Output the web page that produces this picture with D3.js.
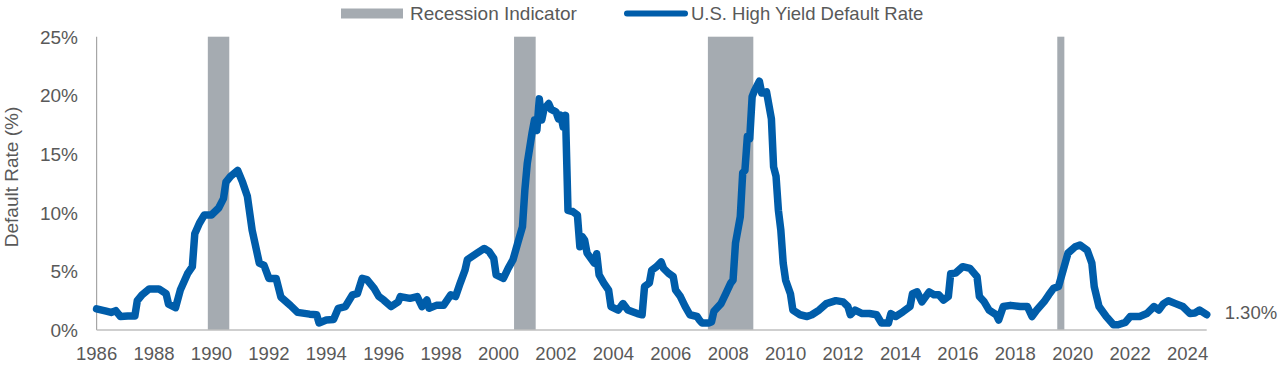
<!DOCTYPE html>
<html>
<head>
<meta charset="utf-8">
<script src="https://cdn.jsdelivr.net/npm/d3@7"></script>
<style>
  html, body { margin: 0; padding: 0; background: #ffffff; }
  svg { display: block; }
  text { font-family: "Liberation Sans", Arial, sans-serif; fill: #595959; }
</style>
</head>
<body>
<svg id="chart" width="1280" height="367"></svg>
<script>
// ---- data ----
const months = [
  "1986-08","1986-12","1987-02","1987-04","1987-06","1987-09","1987-12","1988-01","1988-03","1988-06",
  "1988-10","1989-01","1989-02","1989-05","1989-07","1989-10","1989-12","1990-01","1990-03","1990-05",
  "1990-08","1990-11","1991-01","1991-02","1991-04","1991-07","1991-09","1991-11","1992-01","1992-04",
  "1992-06","1992-08","1992-11","1993-01","1993-05","1993-08","1994-01","1994-04","1994-05","1994-08",
  "1994-11","1995-01","1995-04","1995-07","1995-09","1995-11","1996-01","1996-04","1996-06","1996-08",
  "1996-11","1997-02","1997-03","1997-07","1997-10","1997-12","1998-02","1998-03","1998-06","1998-09",
  "1998-12","1999-02","1999-04","1999-06","1999-07","1999-11","2000-02","2000-04","2000-06","2000-07",
  "2000-10","2000-12","2001-02","2001-04","2001-06","2001-07","2001-08","2001-10","2001-11","2001-12",
  "2002-01","2002-02","2002-03","2002-05","2002-06","2002-08","2002-09","2002-10","2002-11","2002-12",
  "2003-01","2003-03","2003-05","2003-06","2003-07","2003-08","2003-09","2003-12","2004-01","2004-02",
  "2004-04","2004-06","2004-07","2004-10","2004-12","2005-02","2005-04","2005-06","2005-08","2005-09",
  "2005-11","2005-12","2006-02","2006-04","2006-05","2006-07","2006-09","2006-10","2006-12","2007-02",
  "2007-04","2007-07","2007-08","2007-09","2007-12","2008-01","2008-02","2008-05","2008-07","2008-09",
  "2008-10","2008-11","2009-01","2009-02","2009-03","2009-04","2009-05","2009-06","2009-07","2009-09",
  "2009-10","2009-12","2010-02","2010-03","2010-04","2010-05","2010-06","2010-07","2010-08","2010-10",
  "2010-11","2011-02","2011-05","2011-07","2011-10","2012-01","2012-05","2012-08","2012-10","2012-11",
  "2013-01","2013-04","2013-07","2013-10","2013-12","2014-03","2014-04","2014-06","2014-09","2014-12",
  "2015-01","2015-03","2015-05","2015-08","2015-10","2015-12","2016-02","2016-04","2016-05","2016-07",
  "2016-10","2017-01","2017-04","2017-05","2017-07","2017-09","2017-12","2018-01","2018-03","2018-06",
  "2018-10","2019-01","2019-03","2019-05","2019-08","2019-10","2019-12","2020-02","2020-04","2020-06",
  "2020-09","2020-11","2021-02","2021-04","2021-05","2021-07","2021-10","2022-01","2022-03","2022-06",
  "2022-08","2022-12","2023-03","2023-06","2023-08","2023-10","2023-12","2024-03","2024-06","2024-09",
  "2024-11","2025-01","2025-04"
];
const defaultRate = [
  1.8,1.6,1.5,1.65,1.15,1.2,1.2,2.5,3.0,3.5,
  3.5,3.1,2.2,1.9,3.4,4.8,5.4,8.2,9.1,9.8,
  9.8,10.4,11.2,12.6,13.1,13.6,12.6,11.4,8.5,5.7,
  5.5,4.4,4.4,2.8,2.1,1.5,1.35,1.3,0.6,0.85,
  0.9,1.85,2.0,3.0,3.1,4.4,4.3,3.55,2.85,2.55,
  2.0,2.4,2.85,2.7,2.85,2.0,2.55,1.85,2.1,2.1,
  3.0,2.85,4.0,5.1,6.0,6.55,6.95,6.7,6.1,4.7,
  4.4,5.25,6.0,7.4,8.8,11.9,14.2,16.8,17.9,17.0,
  19.7,17.9,18.8,19.3,18.8,18.6,18.0,18.3,17.3,18.3,
  10.2,10.1,9.8,7.1,7.95,7.65,6.55,5.7,6.5,4.7,
  4.0,3.4,2.0,1.7,2.25,1.7,1.55,1.4,1.3,3.7,
  4.0,5.1,5.4,5.8,5.25,4.85,4.55,3.4,2.85,2.0,
  1.3,1.15,0.85,0.6,0.6,0.7,1.6,2.25,3.1,4.0,
  4.25,7.4,9.65,13.4,13.6,16.5,16.3,19.9,20.4,21.2,
  20.2,20.3,18.0,13.9,13.1,10.2,8.5,5.7,4.25,3.1,
  1.7,1.3,1.15,1.3,1.7,2.25,2.5,2.4,2.0,1.3,
  1.7,1.4,1.4,1.3,0.6,0.6,1.4,1.15,1.55,2.0,
  3.1,3.25,2.4,3.25,3.0,3.0,2.55,2.85,4.8,4.85,
  5.4,5.25,4.55,2.85,2.4,1.7,1.3,0.85,2.0,2.1,
  2.0,2.0,1.15,1.7,2.4,3.0,3.55,3.7,5.1,6.55,
  7.1,7.25,6.8,5.7,3.7,2.0,1.15,0.45,0.45,0.65,
  1.15,1.15,1.4,2.0,1.7,2.25,2.5,2.25,2.0,1.4,
  1.45,1.7,1.3
];
const recessionStarts = ["1990-07","2001-03","2007-12","2020-02"];
const recessionEnds   = ["1991-03","2001-11","2009-06","2020-04"];
const yTicks = [0, 5, 10, 15, 20, 25];
const xTickYears = [1986,1988,1990,1992,1994,1996,1998,2000,2002,2004,2006,2008,2010,2012,2014,2016,2018,2020,2022,2024];
const axisStart = "1986-08";
const axisEnd = "2025-04";
const lastLabel = "1.30%";
const legendLabels = ["Recession Indicator", "U.S. High Yield Default Rate"];
const yTitle = "Default Rate (%)";

// ---- setup ----
(function () {
const parse = d3.timeParse("%Y-%m");
const svg = d3.select("#chart");
const mLeft = 96.6, mRight = 1206.7, mTop = 36.7, mBottom = 330;
const blue = "#005DAA", gray = "#A5ABB1";
const fs = 18.5;

const x = d3.scaleTime().domain([parse(axisStart), parse(axisEnd)]).range([mLeft, mRight]);
const y = d3.scaleLinear().domain([0, 25]).range([mBottom, mTop]);

// recession bands (each monthly bar spans half a month either side)
const bands = recessionStarts.map((s, i) => ({ s: parse(s), e: parse(recessionEnds[i]) }));
svg.append("g").selectAll("rect").data(bands).join("rect")
  .attr("x", d => x(d3.timeDay.offset(d.s, -15)))
  .attr("width", d => x(d3.timeDay.offset(d.e, 15)) - x(d3.timeDay.offset(d.s, -15)))
  .attr("y", y(25))
  .attr("height", y(0) - y(25))
  .attr("fill", gray);

// axes lines
svg.append("line").attr("x1", mLeft).attr("x2", mLeft).attr("y1", y(25)).attr("y2", y(0))
  .attr("stroke", "#A6A6A6").attr("stroke-width", 1.2);
svg.append("line").attr("x1", mLeft).attr("x2", mRight).attr("y1", y(0)).attr("y2", y(0))
  .attr("stroke", "#BFBFBF").attr("stroke-width", 1.5);

// y tick labels
svg.append("g").selectAll("text").data(yTicks).join("text")
  .attr("x", 78).attr("y", d => y(d)).attr("dy", "0.36em")
  .attr("text-anchor", "end").style("font-size", "19px")
  .text(d => d + "%");

// x tick labels
svg.append("g").selectAll("text").data(xTickYears).join("text")
  .attr("x", d => x(new Date(d, 7, 1))).attr("y", 359.5)
  .attr("text-anchor", "middle").style("font-size", fs + "px")
  .text(d => d);

// y title
svg.append("text")
  .attr("transform", "translate(18,177) rotate(-90)")
  .attr("text-anchor", "middle").style("font-size", "19px")
  .text(yTitle);

// line
const pts = months.map((m, i) => ({ d: parse(m), v: defaultRate[i] }));
svg.append("path").datum(pts)
  .attr("fill", "none").attr("stroke", blue).attr("stroke-width", 7.5)
  .attr("stroke-linejoin", "round").attr("stroke-linecap", "round")
  .attr("d", d3.line().x(p => x(p.d)).y(p => y(p.v)));

// end label
const last = pts[pts.length - 1];
svg.append("text")
  .attr("x", x(last.d) + 18).attr("y", y(last.v) - 2).attr("dy", "0.36em")
  .style("font-size", fs + "px").text(lastLabel);

// legend
svg.append("rect").attr("x", 341).attr("y", 8.5).attr("width", 62).attr("height", 10).attr("fill", gray);
svg.append("text").attr("x", 410).attr("y", 20).style("font-size", "19px").text(legendLabels[0]);
svg.append("line").attr("x1", 627).attr("x2", 685).attr("y1", 13.5).attr("y2", 13.5)
  .attr("stroke", blue).attr("stroke-width", 6).attr("stroke-linecap", "round");
svg.append("text").attr("x", 691).attr("y", 20).style("font-size", fs + "px").text(legendLabels[1]);
})();
</script>
</body>
</html>
